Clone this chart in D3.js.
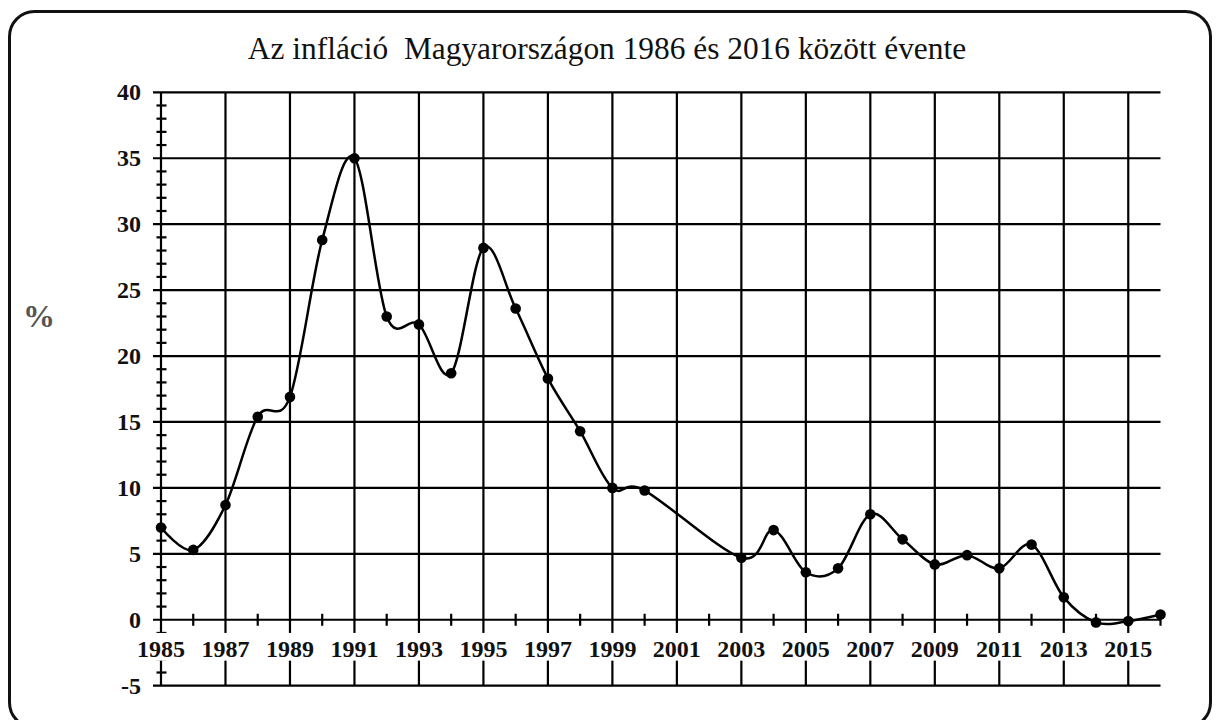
<!DOCTYPE html>
<html>
<head>
<meta charset="utf-8">
<script src="https://cdn.jsdelivr.net/npm/d3@7"></script>
<style>
  html, body { margin: 0; padding: 0; background: #fff; }
  svg { display: block; }
</style>
</head>
<body>
<svg id="chart" width="1217" height="720"></svg>
<script>
// ---- data ----
const titleText = "Az infláció  Magyarországon 1986 és 2016 között évente";
const yAxisLabel = "%";
const years = [1985, 1986, 1987, 1988, 1989, 1990, 1991, 1992, 1993, 1994, 1995, 1996, 1997, 1998, 1999, 2000,
               2003, 2004, 2005, 2006, 2007, 2008, 2009, 2010, 2011, 2012, 2013, 2014, 2015, 2016];
const inflation = [7.0, 5.3, 8.7, 15.4, 16.9, 28.8, 35.0, 23.0, 22.4, 18.7, 28.2, 23.6, 18.3, 14.3, 10.0, 9.8,
                   4.7, 6.8, 3.6, 3.9, 8.0, 6.1, 4.2, 4.9, 3.9, 5.7, 1.7, -0.2, -0.1, 0.4];
const yTicks = [-5, 0, 5, 10, 15, 20, 25, 30, 35, 40];
const xTickLabels = [1985, 1987, 1989, 1991, 1993, 1995, 1997, 1999, 2001, 2003, 2005, 2007, 2009, 2011, 2013, 2015];

// ---- layout ----
const svg = d3.select("#chart");
const x = d3.scaleLinear().domain([1985, 2016]).range([161, 1160.5]);
const y = d3.scaleLinear().domain([-5, 40]).range([685.7, 92.3]);
const ink = "#000";
const serif = "'Liberation Serif', 'Times New Roman', serif";

// frame
svg.append("rect")
  .attr("x", 9.5).attr("y", 11.5).attr("width", 1201).attr("height", 716)
  .attr("rx", 25).attr("ry", 25)
  .attr("fill", "#fff").attr("stroke", "#111").attr("stroke-width", 3);

// title
svg.append("text")
  .attr("x", 607).attr("y", 59)
  .attr("text-anchor", "middle")
  .attr("font-family", serif).attr("font-size", 31.4)
  .attr("fill", "#111")
  .style("white-space", "pre")
  .text(titleText);

// % label
svg.append("text")
  .attr("x", 39).attr("y", 327)
  .attr("text-anchor", "middle")
  .attr("font-family", serif).attr("font-size", 32).attr("font-weight", "bold")
  .attr("fill", "#555")
  .text(yAxisLabel);

const g = svg.append("g");

// horizontal grid lines (major y ticks)
g.selectAll("line.hgrid").data(yTicks).join("line")
  .attr("class", "hgrid")
  .attr("x1", x(1985) - 8).attr("x2", x(2016))
  .attr("y1", d => y(d)).attr("y2", d => y(d))
  .attr("stroke", ink).attr("stroke-width", 2.2);

// vertical grid lines at odd years (and y axis at 1985)
const vYears = d3.range(1985, 2016, 2);
g.selectAll("line.vgrid").data(vYears).join("line")
  .attr("class", "vgrid")
  .attr("x1", d => x(d)).attr("x2", d => x(d))
  .attr("y1", y(40)).attr("y2", y(-5))
  .attr("stroke", ink).attr("stroke-width", 2.2);

// minor y ticks
const minorY = d3.range(-5, 41).filter(v => v % 5 !== 0);
g.selectAll("line.minory").data(minorY).join("line")
  .attr("x1", x(1985) - 4.5).attr("x2", x(1985) + 5.5)
  .attr("y1", d => y(d)).attr("y2", d => y(d))
  .attr("stroke", ink).attr("stroke-width", 2.2);

// minor x ticks at even years
const minorX = d3.range(1986, 2017, 2);
g.selectAll("line.minorx").data(minorX).join("line")
  .attr("x1", d => x(d)).attr("x2", d => x(d))
  .attr("y1", y(0) - 6).attr("y2", y(0) + 6)
  .attr("stroke", ink).attr("stroke-width", 2.2);

// white band for x tick labels
g.append("rect")
  .attr("x", x(1985) - 30).attr("y", y(-1))
  .attr("width", x(2016) - x(1985) + 40).attr("height", y(-3.1) - y(-1))
  .attr("fill", "#fff");

// x tick labels
g.selectAll("text.xl").data(xTickLabels).join("text")
  .attr("x", d => x(d)).attr("y", 657)
  .attr("text-anchor", "middle")
  .attr("font-family", serif).attr("font-size", 24).attr("font-weight", "bold")
  .attr("fill", "#111")
  .text(d => d);

// y tick labels
g.selectAll("text.yl").data(yTicks).join("text")
  .attr("x", 141).attr("y", d => y(d))
  .attr("dy", "0.34em")
  .attr("text-anchor", "end")
  .attr("font-family", serif).attr("font-size", 24).attr("font-weight", "bold")
  .attr("fill", "#111")
  .text(d => d);

// data line
const pts = years.map((yr, i) => [yr, inflation[i]]);
const line = d3.line()
  .x(d => x(d[0])).y(d => y(d[1]))
  .curve(d3.curveCardinal.tension(0));
g.append("path").datum(pts)
  .attr("d", line)
  .attr("fill", "none").attr("stroke", ink).attr("stroke-width", 2.5);

g.selectAll("circle.pt").data(pts).join("circle")
  .attr("cx", d => x(d[0])).attr("cy", d => y(d[1]))
  .attr("r", 5.3).attr("fill", ink);
</script>
</body>
</html>
